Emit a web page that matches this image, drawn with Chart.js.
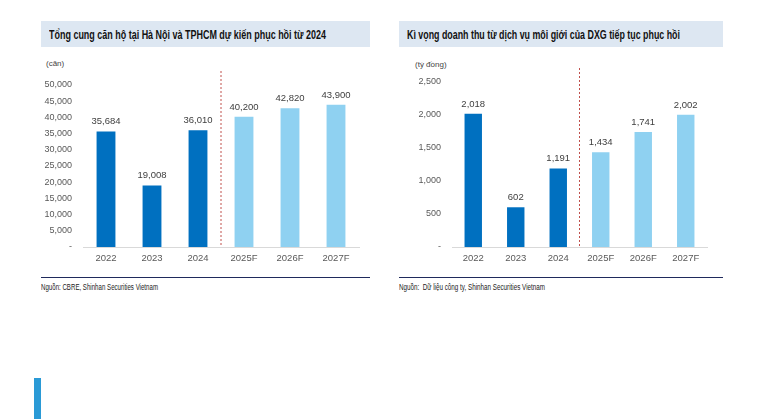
<!DOCTYPE html>
<html>
<head>
<meta charset="utf-8">
<script src="https://cdn.jsdelivr.net/npm/chart.js@4.4.1/dist/chart.umd.min.js"></script>
<style>
  body { margin: 0; background: #fff; width: 781px; height: 419px; position: relative; overflow: hidden; }
  .band { position: absolute; top: 21px; height: 26px; background: #dde7f2; }
  .band span { position: absolute; left: 8px; top: 6px; font: bold 13px "Liberation Sans", Arial, sans-serif; color: #111; white-space: nowrap; transform-origin: 0 0; }
  .rule { position: absolute; top: 277px; height: 1px; background: #1f2a5c; }
  .src { position: absolute; top: 282px; font: 8.5px "Liberation Sans", Arial, sans-serif; color: #222; white-space: nowrap; transform-origin: 0 0; }
  .unit { position: absolute; font: 8px "Liberation Sans", Arial, sans-serif; color: #444; }
  .box { position: absolute; }
  .accent { position: absolute; left: 34px; top: 378px; width: 7px; height: 41px; background: #2a9ad6; }
</style>
</head>
<body>
<div class="band" style="left:41px;width:329px"><span data-w="277">Tổng cung căn hộ tại Hà Nội và TPHCM dự kiến phục hồi từ 2024</span></div>
<div class="band" style="left:399px;width:324px"><span data-w="273">Kì vọng doanh thu từ dịch vụ môi giới của DXG tiếp tục phục hồi</span></div>
<div class="unit" style="left:46px;top:59px">(căn)</div>
<div class="unit" style="left:415px;top:60px">(tỷ đồng)</div>
<div class="box" style="left:41px;top:55px;width:329px;height:215px"><canvas id="chartLeft"></canvas></div>
<div class="box" style="left:399px;top:55px;width:324px;height:215px"><canvas id="chartRight"></canvas></div>
<div class="rule" style="left:41px;width:329px"></div>
<div class="rule" style="left:399px;width:324px"></div>
<div class="src" style="left:41px" data-w="117">Nguồn: CBRE, Shinhan Securities Vietnam</div>
<div class="src" style="left:399px" data-w="146">Nguồn:&nbsp; Dữ liệu công ty, Shinhan Securities Vietnam</div>
<div class="accent"></div>
<script>
const years = ['2022', '2023', '2024', '2025F', '2026F', '2027F'];
const supplyUnits = [35684, 19008, 36010, 40200, 42820, 43900];
const brokerRevenue = [2018, 602, 1191, 1434, 1741, 2002];
const supplyTicks = [0, 5000, 10000, 15000, 20000, 25000, 30000, 35000, 40000, 45000, 50000];
const revenueTicks = [0, 500, 1000, 1500, 2000, 2500];

// the source uses a narrow face; squeeze the text to the original widths
document.querySelectorAll('[data-w]').forEach(el => {
  const w = el.getBoundingClientRect().width;
  el.style.transform = 'scaleX(' + (Number(el.dataset.w) / w) + ')';
});

const actualColor = '#0070c0';
const forecastColor = '#8fd1f1';
const barColors = years.map(y => y.endsWith('F') ? forecastColor : actualColor);
const baseFont = { family: '"Liberation Sans", Arial, sans-serif', size: 9 };

function fmt(v) {
  return v === 0 ? '-' : v.toLocaleString('en-US');
}

// value labels above bars + dashed separator before forecast years
const barExtras = {
  id: 'barExtras',
  afterDatasetsDraw(chart) {
    const c = chart.ctx;
    const meta = chart.getDatasetMeta(0);
    c.save();
    c.fillStyle = '#404040';
    c.font = '9.5px "Liberation Sans", Arial, sans-serif';
    c.textAlign = 'center';
    c.textBaseline = 'bottom';
    meta.data.forEach((bar, i) => {
      c.fillText(fmt(chart.data.datasets[0].data[i]), bar.x, bar.y - 5);
    });
    const firstF = years.findIndex(y => y.endsWith('F'));
    const x = (meta.data[firstF - 1].x + meta.data[firstF].x) / 2;
    c.strokeStyle = '#c0504d';
    c.lineWidth = 1;
    c.setLineDash([2, 2]);
    c.beginPath();
    c.moveTo(x, chart.chartArea.top - 14);
    c.lineTo(x, chart.chartArea.bottom);
    c.stroke();
    c.restore();
  }
};

function makeChart(id, values, ticks, yWidth, topPad, rightPad) {
  const max = ticks[ticks.length - 1];
  return new Chart(document.getElementById(id), {
    type: 'bar',
    data: {
      labels: years,
      datasets: [{ data: values, backgroundColor: barColors, barPercentage: 0.82, categoryPercentage: 0.5 }],
    },
    options: {
      responsive: true,
      maintainAspectRatio: false,
      animation: false,
      layout: { padding: { top: topPad, right: rightPad, left: 0, bottom: 0 } },
      plugins: { legend: { display: false }, tooltip: { enabled: false } },
      scales: {
        x: {
          grid: { display: false, drawTicks: false },
          border: { color: '#d9d9d9', width: 1 },
          ticks: { color: '#595959', font: { ...baseFont, size: 9.5 }, padding: 6 },
          afterFit: s => { s.height = 23; },
        },
        y: {
          min: 0, max: max,
          afterBuildTicks: s => { s.ticks = ticks.map(v => ({ value: v })); },
          grid: { display: false, drawTicks: false },
          border: { display: false },
          ticks: { color: '#595959', font: baseFont, padding: 11, callback: v => fmt(v) },
          afterFit: s => { s.width = yWidth; },
        },
      },
    },
    plugins: [barExtras],
  });
}

makeChart('chartLeft', supplyUnits, supplyTicks, 42, 30, 11);
makeChart('chartRight', brokerRevenue, revenueTicks, 53, 27, 16);
</script>
</body>
</html>
